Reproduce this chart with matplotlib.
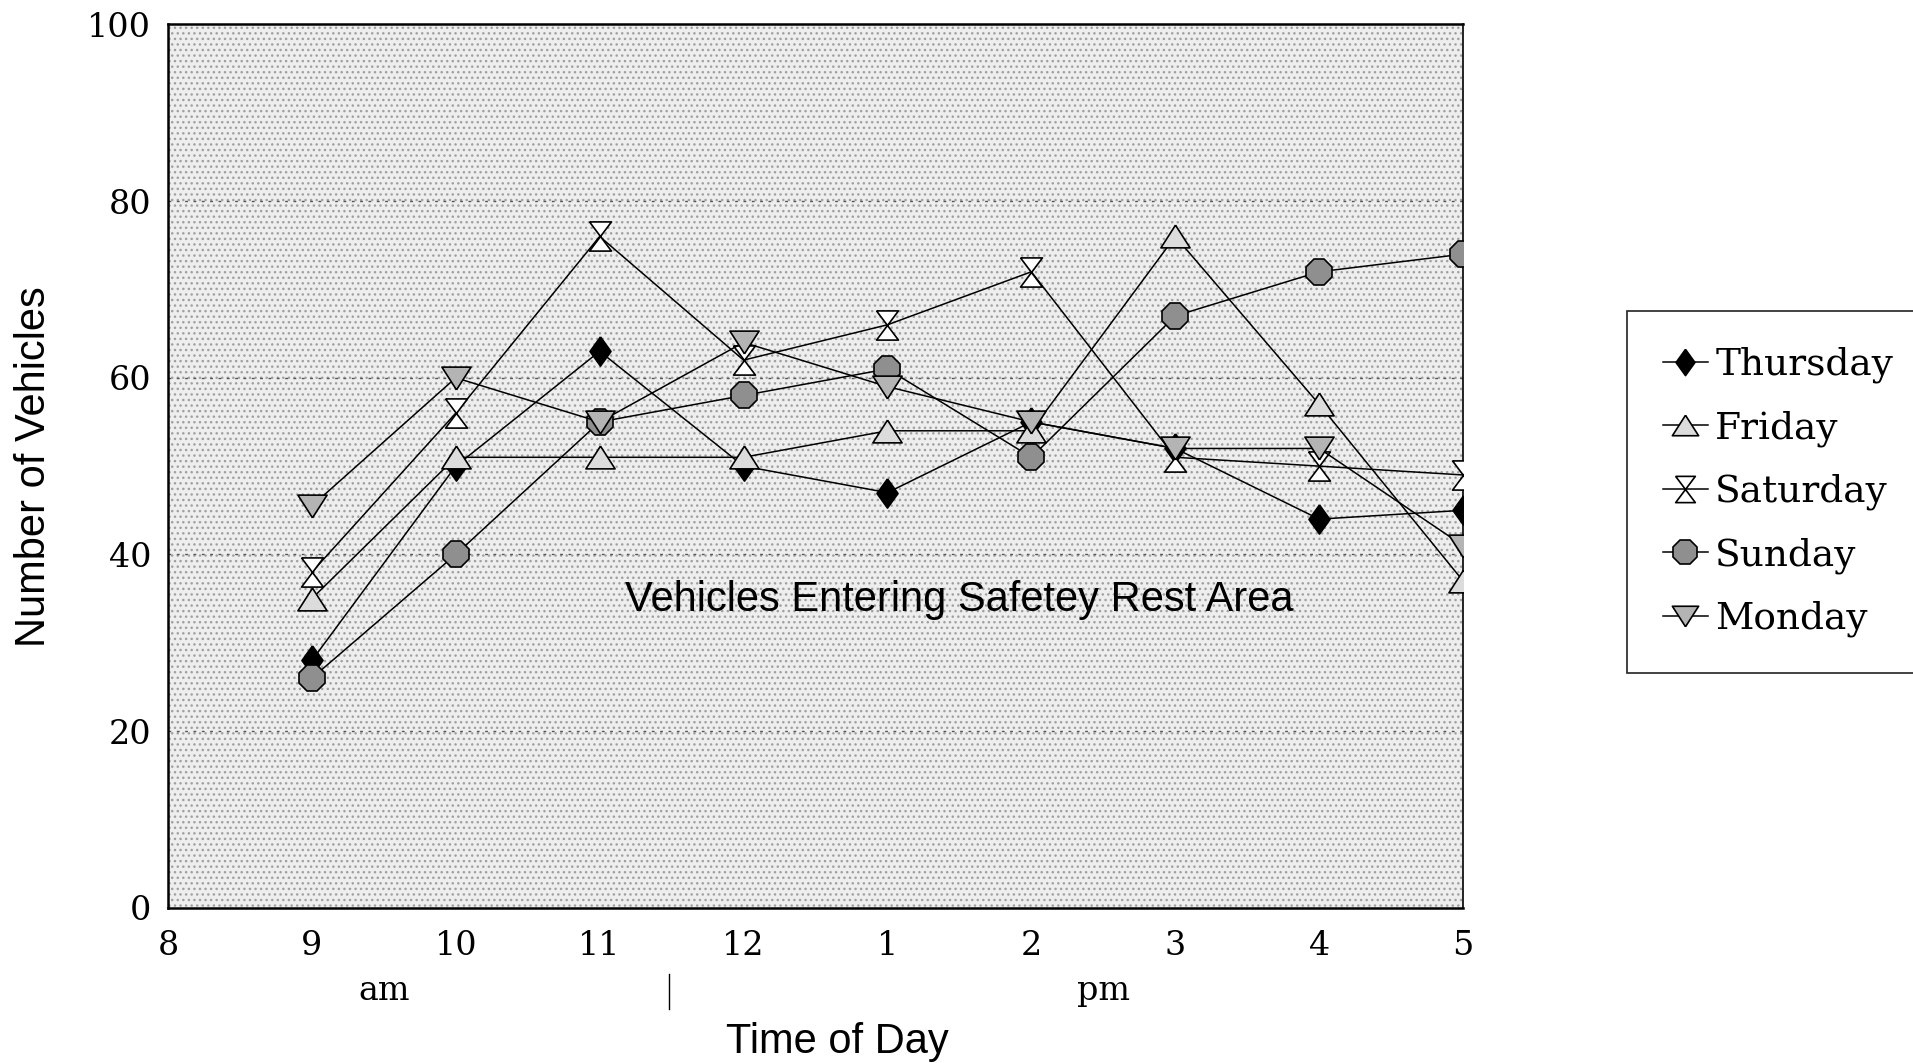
import matplotlib
matplotlib.use('Agg')
import matplotlib.pyplot as plt
import matplotlib.transforms as mtransforms
from matplotlib.patches import Rectangle

# data
hours = ['8', '9', '10', '11', '12', '1', '2', '3', '4', '5']
thursday = [28, 50, 63, 50, 47, 55, 52, 44, 45]
friday = [35, 51, 51, 51, 54, 54, 76, 57, 37]
saturday = [38, 56, 76, 62, 66, 72, 51, 50, 49]
sunday = [26, 40, 55, 58, 61, 51, 67, 72, 74]
monday = [45.5, 60, 55, 64, 59, 55, 52, 52, 41]
y_ticks = [0, 20, 40, 60, 80, 100]

serif = 'DejaVu Serif'
sans = 'Liberation Sans'

# marker shapes
diamond = [(0, 1), (0.72, 0), (0, -1), (-0.72, 0), (0, 1)]
tri_up = [(0, 0.78), (1, -0.78), (-1, -0.78), (0, 0.78)]
tri_down = [(0, -0.78), (1, 0.78), (-1, 0.78), (0, -0.78)]
hourglass = [(-0.75, 1), (0.75, 1), (-0.75, -1), (0.75, -1), (-0.75, 1)]

fig = plt.figure(figsize=(19.13, 10.63), dpi=100)
ax = fig.add_axes([0.0878, 0.146, 0.677, 0.831])

# dotted grey background
ax.set_facecolor('#eeeeee')
bg = Rectangle((0, 0), 1, 1, transform=ax.transAxes, facecolor='none',
               edgecolor='#a0a0a0', hatch='...', lw=0, zorder=0)
ax.add_patch(bg)

x = list(range(1, len(hours)))
style = dict(color='black', lw=1.1, markeredgecolor='black', markeredgewidth=1.2, zorder=3)
ax.plot(x, thursday, marker=diamond, markersize=21, markerfacecolor='black', label='Thursday', **style)
ax.plot(x, friday, marker=tri_up, markersize=21, markerfacecolor='#dcdcdc', label='Friday', **style)
ax.plot(x, saturday, marker=hourglass, markersize=21, markerfacecolor='white', label='Saturday', **style)
ax.plot(x, sunday, marker='8', markersize=20, markerfacecolor='#8f8f8f', label='Sunday', **style)
ax.plot(x, monday, marker=tri_down, markersize=21, markerfacecolor='#b4b4b4', label='Monday', **style)

ax.set_xlim(0, len(hours) - 1)
ax.set_ylim(0, 100)
ax.set_xticks(range(len(hours)))
ax.set_xticklabels(hours, fontfamily=serif, fontsize=24)
ax.set_yticks(y_ticks)
ax.set_yticklabels([str(v) for v in y_ticks], fontfamily=serif, fontsize=24)
ax.tick_params(axis='x', length=0, pad=16)
ax.tick_params(axis='y', length=0, pad=12)
for v in y_ticks[1:-1]:
    ax.axhline(v, color='#555555', lw=1, ls=(0, (2, 4)), zorder=1)

for side in ['top', 'bottom', 'left']:
    ax.spines[side].set_linewidth(1.8)
ax.spines['right'].set_linewidth(1.2)

ax.set_ylabel('Number of Vehicles', fontfamily=sans, fontsize=30, labelpad=24)

trans = mtransforms.blended_transform_factory(ax.transData, ax.transAxes)
ax.text(1.5, -0.094, 'am', transform=trans, ha='center', va='center', fontfamily=serif, fontsize=24)
ax.text(6.5, -0.094, 'pm', transform=trans, ha='center', va='center', fontfamily=serif, fontsize=24)
ax.plot([3.48, 3.48], [-0.075, -0.115], transform=trans, color='black', lw=1, clip_on=False)
ax.text(4.65, -0.152, 'Time of Day', transform=trans, ha='center', va='center', fontfamily=sans, fontsize=30)

ax.text(5.5, 34.8, 'Vehicles Entering Safetey Rest Area', ha='center', va='center',
        fontfamily=sans, fontsize=30, zorder=4)

leg = fig.legend(loc='upper left', bbox_to_anchor=(0.8505, 0.7074), frameon=True,
                 fancybox=False, edgecolor='black', prop={'family': serif, 'size': 27},
                 handlelength=1.2, handletextpad=0.2, labelspacing=0.72, borderpad=0.95,
                 borderaxespad=0, markerscale=0.9)
leg.get_frame().set_linewidth(1.3)

fig.savefig('out.png', dpi=100)
